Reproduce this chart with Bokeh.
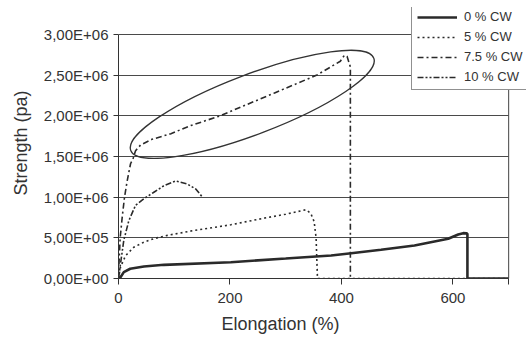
from bokeh.plotting import figure
from bokeh.models import (Range1d, FixedTicker, CustomJSTickFormatter, Legend, LegendItem,
                          Span, Title)
from bokeh.embed import file_html
from bokeh.resources import INLINE

# ---- data ----
cw0_x = [0, 3.6, 9.5, 21, 45.5, 81.5, 201.5, 300, 381.5, 417.5, 471, 531, 591.5, 609.5, 618.5, 624, 626, 626, 700]
cw0_y = [0, 16000, 78000, 120000, 148000, 168000, 200000, 245000, 283000, 311000, 353000, 406000, 488000, 541000, 557000, 555000, 550000, 0, 0]

cw5_x = [0, 3.6, 12.6, 27.5, 45.5, 63.5, 87.6, 135.5, 201.5, 260, 300, 336.5, 345, 351, 354.5, 357, 700]
cw5_y = [0, 140000, 280000, 385000, 446000, 490000, 530000, 590000, 660000, 740000, 790000, 845000, 800000, 700000, 500000, 0, 0]

cw75_x = [0, 1, 3, 6.6, 10.8, 15.6, 21.6, 26.4, 30.6, 39.6, 60, 94, 130, 183, 224, 280, 356, 398, 405, 410, 416, 416]
cw75_y = [0, 200000, 500000, 750000, 1000000, 1200000, 1410000, 1480000, 1570000, 1640000, 1710000, 1780000, 1880000, 2000000, 2120000, 2280000, 2500000, 2670000, 2740000, 2730000, 2600000, 0]

cw10_x = [0, 3.6, 9.5, 18.5, 30.6, 45.5, 63.5, 81.5, 102.6, 123.6, 138.6, 150.6]
cw10_y = [0, 180000, 470000, 710000, 900000, 980000, 1060000, 1140000, 1200000, 1160000, 1100000, 1000000]

series_labels = ["0 % CW", "5 % CW", "7.5 % CW", "10 % CW"]
x_ticks = [0, 200, 400, 600, 700]
y_ticks = [0, 500000, 1000000, 1500000, 2000000, 2500000, 3000000]
x_axis_max = 700
y_axis_max = 3000000
x_view_max = 732       # room to the right so the legend box can overhang
y_view_max = 3330000   # headroom above the axis so the legend box can sit there

# highlight ellipse (annotation)
ell_x, ell_y = 240, 2140000
ell_w, ell_h, ell_angle = 260, 60, 0.363

FONT = "Liberation Sans"
TXT = "#333333"
INK = "#2a2a2a"

p = figure(width=526, height=339, output_backend="svg", toolbar_location=None,
           x_range=Range1d(0, x_view_max), y_range=Range1d(0, y_view_max),
           min_border_left=118, min_border_right=0, min_border_top=7, min_border_bottom=61)
p.background_fill_color = "white"
p.border_fill_color = "white"
p.outline_line_color = None

p.xgrid.visible = False
p.ygrid.grid_line_color = "#4a4a4a"
p.ygrid.grid_line_width = 1
p.ygrid.ticker = FixedTicker(ticks=y_ticks)
p.ygrid.cross_bounds = (0, x_axis_max)

p.yaxis.ticker = FixedTicker(ticks=y_ticks)
p.yaxis.bounds = (0, y_axis_max)
p.yaxis.formatter = CustomJSTickFormatter(code="return tick.toExponential(2).replace('.', ',').replace('e+', 'E+0');")
p.xaxis.ticker = FixedTicker(ticks=x_ticks)
p.xaxis.formatter = CustomJSTickFormatter(code="return tick >= 700 ? '' : tick.toFixed(0);")
p.xaxis.bounds = (0, x_axis_max)

for ax in (p.xaxis[0], p.yaxis[0]):
    ax.axis_line_color = "#333333"
    ax.axis_line_width = 1
    ax.major_tick_line_color = "#333333"
    ax.major_tick_in = 0
    ax.minor_tick_line_color = None
    ax.major_label_text_font = FONT
    ax.major_label_text_font_size = "15px"
    ax.major_label_text_color = TXT
    ax.axis_label_text_font = FONT
    ax.axis_label_text_font_style = "normal"
    ax.axis_label_text_color = TXT

p.yaxis.major_tick_out = 5
p.yaxis.major_label_standoff = 5
p.yaxis.axis_label = "Strength (pa)"
p.yaxis.axis_label_text_font_size = "18px"
p.yaxis.axis_label_standoff = 10

p.xaxis.major_tick_out = 6
p.xaxis.major_label_standoff = 8

r0 = p.line(cw0_x, cw0_y, line_color=INK, line_width=2.6)
r5 = p.line(cw5_x, cw5_y, line_color=INK, line_width=1.6, line_dash="2 3")
r75 = p.line(cw75_x, cw75_y, line_color=INK, line_width=1.6, line_dash="6 3 2 3")
r10 = p.line(cw10_x, cw10_y, line_color=INK, line_width=1.6, line_dash="6 2 2 2 2 2")

p.ellipse(x=[ell_x], y=[ell_y], width=[ell_w], height=[ell_h], angle=ell_angle,
          width_units="screen", height_units="screen",
          fill_color=None, line_color="#333333", line_width=1.3)

# right border of the plot area
p.add_layout(Span(location=x_axis_max, dimension="height", line_color="#444444", line_width=1))

xtitle = Title(text="Elongation (%)", align="left", offset=103, standoff=12,
               text_font=FONT, text_font_size="18px", text_font_style="normal", text_color=TXT)
p.add_layout(xtitle, "below")

legend = Legend(items=[LegendItem(label=series_labels[0], renderers=[r0]),
                       LegendItem(label=series_labels[1], renderers=[r5]),
                       LegendItem(label=series_labels[2], renderers=[r75]),
                       LegendItem(label=series_labels[3], renderers=[r10])],
                location=(293, 188))
legend.label_text_font = FONT
legend.label_text_font_size = "13px"
legend.label_text_color = TXT
legend.label_height = 14
legend.label_width = 64
legend.glyph_height = 14
legend.glyph_width = 40
legend.label_standoff = 7
legend.spacing = 5
legend.padding = 5
legend.margin = 0
legend.border_line_color = "#222222"
legend.border_line_width = 1.2
legend.background_fill_color = "white"
legend.background_fill_alpha = 1
p.add_layout(legend)

open("out.html", "w").write(file_html(p, INLINE))
